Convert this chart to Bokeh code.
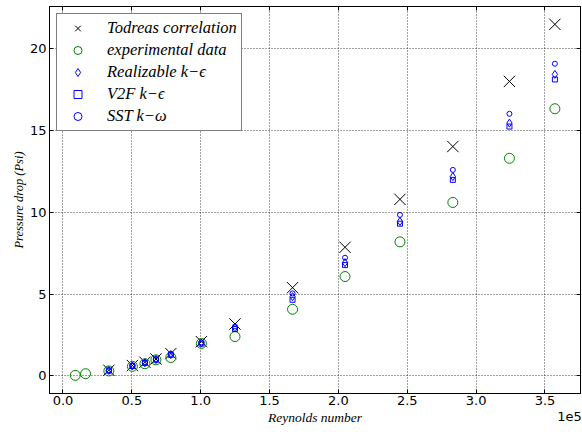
from bokeh.plotting import figure
from bokeh.models import (Range1d, LinearAxis, Legend, LegendItem, Grid,
                          CustomJSTickFormatter, FixedTicker)
from bokeh.embed import file_html
from bokeh.resources import INLINE

# ---- data ----
re_exp = [8900, 16400, 33300, 50400, 59500, 67500, 78300, 100500,
          124900, 166700, 204800, 244700, 283100, 324200, 357200]
dp_exp = [0.03, 0.13, 0.30, 0.58, 0.74, 0.98, 1.12, 1.98,
          2.40, 4.07, 6.07, 8.19, 10.60, 13.30, 16.33]

re_sim = [33300, 50400, 59500, 67500, 78300, 100500, 124900,
          166700, 204800, 244700, 283100, 324200, 357200]
dp_todreas = [0.34, 0.63, 0.83, 1.03, 1.36, 2.09, 3.17, 5.39, 7.86, 10.79, 14.02, 18.00, 21.49]
dp_realizable = [0.33, 0.61, 0.80, 1.00, 1.30, 2.00, 2.93, 4.84, 6.92, 9.44, 12.18, 15.45, 18.43]
dp_v2f = [0.32, 0.60, 0.79, 0.98, 1.28, 1.97, 2.86, 4.65, 6.77, 9.30, 11.98, 15.24, 18.12]
dp_sst = [0.34, 0.63, 0.83, 1.03, 1.34, 2.05, 3.02, 5.04, 7.22, 9.84, 12.59, 16.02, 19.08]

labels = ["Todreas correlation", "experimental data", "Realizable k\u2212\u03f5",
          "V2F k\u2212\u03f5", "SST k\u2212\u03c9"]

x_ticks = [0, 50000, 100000, 150000, 200000, 250000, 300000, 350000]
y_ticks = [0, 5, 10, 15, 20]
x_lo, x_hi = -9800, 375800
y_lo, y_hi = -1.08, 22.58
offset_text = "1e5"
offset_pos = x_hi - 8000   # centre of the "1e5" text so that it ends at the frame edge

SERIF = "Liberation Serif"

p = figure(width=582, height=432, output_backend="svg", toolbar_location=None,
           x_range=Range1d(x_lo, x_hi), y_range=Range1d(y_lo, y_hi),
           min_border_left=49, min_border_right=2, min_border_top=6,
           min_border_bottom=39, x_axis_type=None, y_axis_type=None)
p.background_fill_color = "white"
p.border_fill_color = "white"
p.outline_line_color = "black"
p.outline_line_width = 1

fmt = CustomJSTickFormatter(code="return (tick/1e5).toFixed(1);")
blank = CustomJSTickFormatter(code="return '';")

def style_axis(ax, show_labels):
    ax.major_tick_in = 4
    ax.major_tick_out = 0
    ax.minor_tick_line_color = None
    ax.axis_line_color = "black"
    ax.major_tick_line_color = "black"
    ax.axis_label_text_color = "black"
    if show_labels:
        ax.major_label_text_font = "DejaVu Sans"
        ax.major_label_text_font_size = "13px"
        ax.major_label_text_color = "black"
        ax.major_label_standoff = 2
    else:
        ax.formatter = blank
        ax.major_label_text_font_size = "0px"
        ax.major_label_standoff = 0

# bottom axis: ticks, tick labels and the axis title
xb = LinearAxis(ticker=FixedTicker(ticks=x_ticks), formatter=fmt,
                axis_label="Reynolds number")
style_axis(xb, True)
xb.axis_label_text_font = SERIF
xb.axis_label_text_font_style = "italic"
xb.axis_label_text_font_size = "13.5px"
xb.axis_label_standoff = 2
p.add_layout(xb, "below")

# offset text "1e5", pulled up onto the axis-title line
xb2 = LinearAxis(ticker=FixedTicker(ticks=[offset_pos]),
                 formatter=CustomJSTickFormatter(code="return '%s';" % offset_text))
xb2.axis_line_color = None
xb2.major_tick_line_color = None
xb2.minor_tick_line_color = None
xb2.major_tick_in = 0
xb2.major_tick_out = 0
xb2.major_label_standoff = -16
xb2.major_label_text_font = "DejaVu Sans"
xb2.major_label_text_font_size = "13px"
xb2.major_label_text_color = "black"
p.add_layout(xb2, "below")

xt = LinearAxis(ticker=FixedTicker(ticks=x_ticks))
style_axis(xt, False)
p.add_layout(xt, "above")

yl = LinearAxis(ticker=FixedTicker(ticks=y_ticks), axis_label="Pressure drop (Psi)")
style_axis(yl, True)
yl.major_label_standoff = 3
yl.axis_label_text_font = SERIF
yl.axis_label_text_font_style = "italic"
yl.axis_label_text_font_size = "12.5px"
yl.axis_label_standoff = 1
p.add_layout(yl, "left")
yr = LinearAxis(ticker=FixedTicker(ticks=y_ticks))
style_axis(yr, False)
p.add_layout(yr, "right")

for dim, ticks in ((0, x_ticks), (1, y_ticks)):
    g = Grid(dimension=dim, ticker=FixedTicker(ticks=ticks))
    g.grid_line_color = "black"
    g.grid_line_alpha = 0.75
    g.grid_line_dash = "1 2"
    g.grid_line_width = 1
    p.add_layout(g)

r1 = p.scatter(re_sim, dp_todreas, marker="x", size=16, line_color="black", line_width=1)
r2 = p.scatter(re_exp, dp_exp, marker="circle", size=10, fill_color=None,
               line_color="#008000", line_width=1)
r3 = p.scatter(re_sim, dp_realizable, marker="diamond", size=8, fill_color=None,
               line_color="blue", line_width=1)
r4 = p.scatter(re_sim, dp_v2f, marker="square", size=5, fill_color=None,
               line_color="blue", line_width=1)
r5 = p.scatter(re_sim, dp_sst, marker="circle", size=5, fill_color=None,
               line_color="blue", line_width=1)

legend = Legend(items=[LegendItem(label=l, renderers=[r]) for l, r in
                       zip(labels, [r1, r2, r3, r4, r5])],
                location="top_left")
legend.margin = 7
legend.padding = 4
legend.spacing = 2
legend.glyph_height = 20
legend.label_height = 20
legend.glyph_width = 33
legend.label_standoff = 13
legend.label_text_font = SERIF
legend.label_text_font_style = "italic"
legend.label_text_font_size = "16.5px"
legend.label_text_color = "black"
legend.border_line_color = "black"
legend.border_line_width = 1
legend.background_fill_alpha = 1
p.add_layout(legend)

open("out.html", "w").write(file_html(p, INLINE))
